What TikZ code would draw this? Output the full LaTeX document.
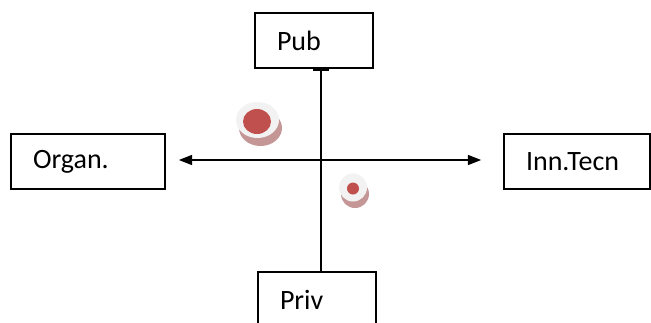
\documentclass[tikz,border=0pt]{standalone}
\usepackage{fontspec}
\setmainfont{Carlito}
\usetikzlibrary{arrows.meta}
\definecolor{coinred}{RGB}{192,80,77}
\definecolor{coinface}{RGB}{242,242,242}
\definecolor{coinside}{RGB}{196,150,150}
\begin{document}
\begin{tikzpicture}[x=0.75pt,y=-0.75pt]
\tikzset{box/.style={draw, line width=1.2pt, minimum height=41.25pt, inner xsep=16.5pt, align=left, font=\fontsize{21}{24}\selectfont}}
\clip (0,0) rectangle (651,322);
\node[box, text width=55.5pt] (pub) at (314,40.5) {Pub};
\node[box, text width=82.5pt] (organ) at (88,161.5) {Organ.};
\node[box, text width=76.5pt] (inntecn) at (577,161.5) {Inn.Tecn};
\node[box, text width=55.5pt] (priv) at (317,299.5) {Priv};
\coordinate (c) at (321,160);
% axes
\draw[line width=1.2pt, {Bar[width=12pt,line width=2pt]}-] (c |- pub.south) -- (c |- priv.north);
\draw[line width=1.2pt, {Triangle[length=10pt,width=7.5pt]}-{Triangle[length=10pt,width=7.5pt]}, shorten <=9.75pt, shorten >=16.5pt] (organ.east |- c) -- (inntecn.west |- c);
% coins
\fill[coinside] (260.5,128) ellipse [x radius=21.5, y radius=18];
\fill[coinface] (257.5,120) ellipse [x radius=21.5, y radius=18];
\fill[coinred] (257,121.5) ellipse [x radius=14, y radius=12.5];
\fill[coinside] (355,194) circle [radius=14];
\fill[coinface] (353,187.5) circle [radius=14];
\fill[coinred] (353,188.5) circle [radius=6];
\end{tikzpicture}
\end{document}
